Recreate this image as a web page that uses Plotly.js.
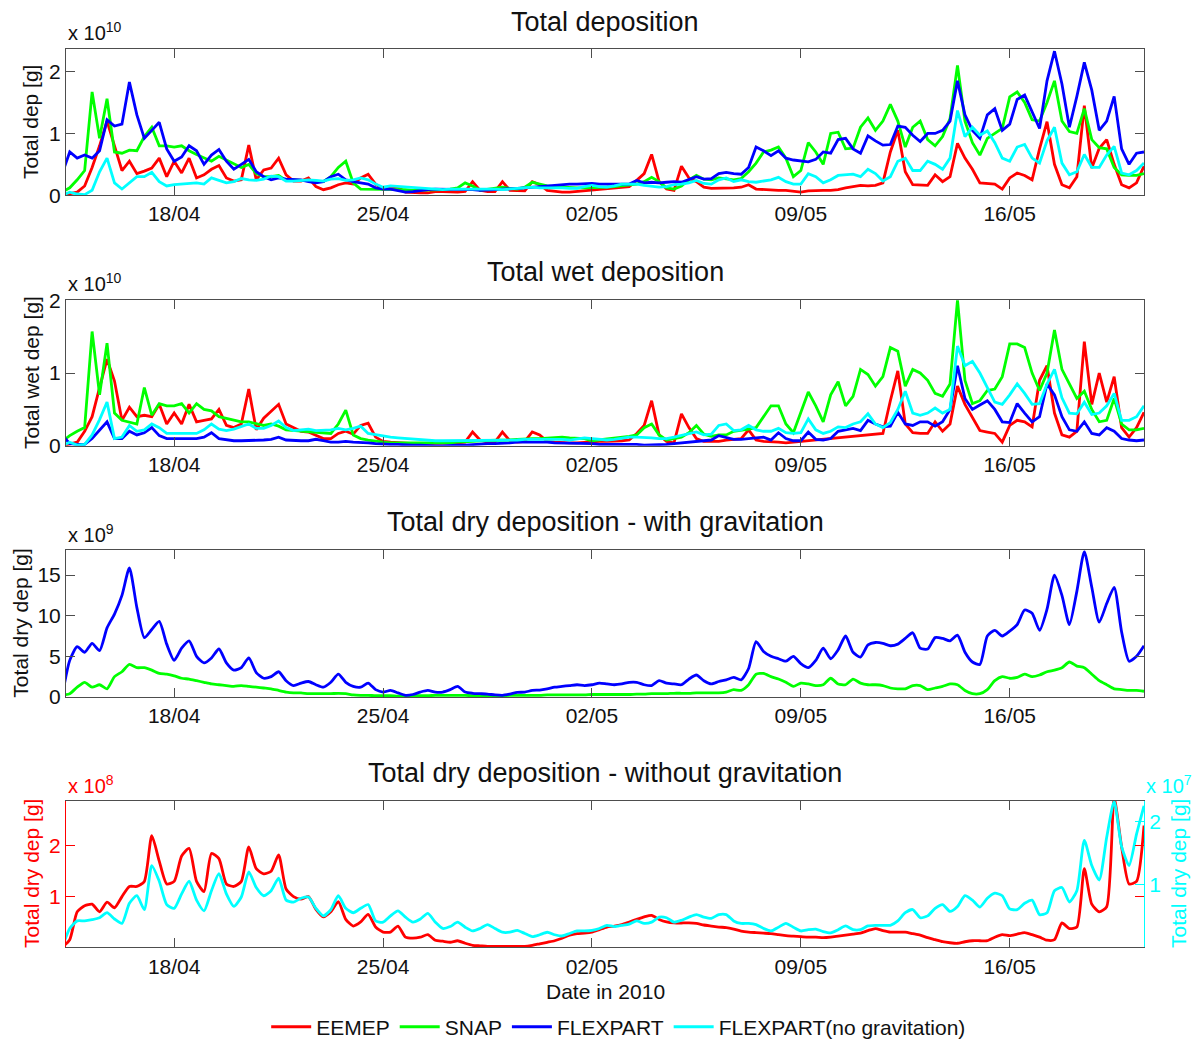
<!DOCTYPE html>
<html>
<head>
<meta charset="utf-8">
<script src="https://cdn.plot.ly/plotly-3.0.1.min.js"></script>
<style>
  html, body { margin: 0; padding: 0; background: #ffffff; }
  #chart { width: 1199px; height: 1048px; }
</style>
</head>
<body>
<div id="chart"></div>
<script>
// ---------------------------------------------------------------------------
// Ash deposition totals, 14 April - 20 May 2010, six-hourly samples
// (first sample 14/04 06:00, last sample 20/05 12:00).
// ---------------------------------------------------------------------------
const startTime = Date.UTC(2010, 3, 14, 6, 0);
const stepHours = 6;

const modelNames = ['EEMEP', 'SNAP', 'FLEXPART', 'FLEXPART(no gravitation)'];
const dateTicks = ['2010-04-18', '2010-04-25', '2010-05-02', '2010-05-09', '2010-05-16'];
const dateTickText = ['18/04', '25/04', '02/05', '09/05', '16/05'];

// Total deposition, units of 1e10 g
const totalEemep = [
  0, 0.02, 0.05, 0.15, 0.45, 0.8, 1.2, 0.8,
  0.4, 0.55, 0.35, 0.39, 0.44, 0.6, 0.3, 0.55,
  0.36, 0.6, 0.28, 0.33, 0.42, 0.48, 0.28, 0.23,
  0.25, 0.81, 0.25, 0.41, 0.44, 0.6, 0.33, 0.23,
  0.23, 0.28, 0.14, 0.09, 0.12, 0.17, 0.2, 0.18,
  0.28, 0.34, 0.18, 0.1, 0.12, 0.13, 0.05, 0.04,
  0.04, 0.04, 0.06, 0.06, 0.05, 0.05, 0.06, 0.22,
  0.08, 0.06, 0.06, 0.22, 0.08, 0.07, 0.07, 0.22,
  0.17, 0.08, 0.06, 0.05, 0.05, 0.06, 0.08, 0.09,
  0.09, 0.1, 0.12, 0.13, 0.14, 0.24, 0.35, 0.66,
  0.22, 0.1, 0.08, 0.47, 0.28, 0.22, 0.13, 0.11,
  0.11, 0.12, 0.12, 0.13, 0.17, 0.1, 0.09, 0.09,
  0.08, 0.08, 0.06, 0.05, 0.07, 0.08, 0.08, 0.08,
  0.09, 0.12, 0.14, 0.16, 0.15, 0.16, 0.2, 0.7,
  1.05, 0.38, 0.17, 0.16, 0.16, 0.33, 0.22, 0.3,
  0.84, 0.6, 0.42, 0.2, 0.19, 0.18, 0.1, 0.28,
  0.36, 0.32, 0.25, 0.75, 1.19, 0.5, 0.17, 0.12,
  0.3, 1.45, 0.44, 0.76, 0.9, 0.5, 0.17, 0.12,
  0.2, 0.47
];
const totalSnap = [
  0.05, 0.12, 0.25, 0.4, 1.67, 0.92, 1.56, 0.7,
  0.68, 0.73, 0.72, 0.95, 1.1, 0.8, 0.8, 0.78,
  0.8, 0.72, 0.66, 0.6, 0.55, 0.63, 0.57, 0.5,
  0.45, 0.5, 0.35, 0.3, 0.3, 0.32, 0.24, 0.25,
  0.24, 0.23, 0.22, 0.22, 0.3, 0.45, 0.55, 0.2,
  0.1, 0.1, 0.1, 0.1, 0.1, 0.09, 0.09, 0.08,
  0.08, 0.08, 0.09, 0.09, 0.1, 0.12, 0.2, 0.15,
  0.08, 0.1, 0.12, 0.13, 0.11, 0.1, 0.13, 0.21,
  0.18, 0.15, 0.14, 0.13, 0.13, 0.12, 0.12, 0.12,
  0.12, 0.13, 0.14, 0.15, 0.16, 0.18, 0.22, 0.29,
  0.22, 0.12, 0.1, 0.15, 0.25, 0.32, 0.26, 0.25,
  0.28, 0.27, 0.25, 0.27, 0.38, 0.52, 0.7, 0.73,
  0.78, 0.6, 0.3, 0.4, 0.85, 0.7, 0.5, 1.0,
  1.02, 0.75, 0.76, 1.1, 1.25, 1.05, 1.2, 1.47,
  1.2, 0.78, 1.1, 1.2, 0.9, 0.8, 0.95, 1.24,
  2.1, 1.2, 0.85, 0.65, 0.92, 1.0, 1.08, 1.59,
  1.67, 1.5, 1.22, 1.2, 1.5, 1.85, 1.2, 1.03,
  1.0, 1.4, 0.9, 0.77, 0.75, 0.45, 0.33, 0.32,
  0.32, 0.35
];
const totalFlexpart = [
  0.35, 0.7, 0.6, 0.65, 0.6, 0.72, 1.22, 1.12,
  1.15, 1.83, 1.3, 0.92, 1.05, 1.18, 0.75, 0.55,
  0.62, 0.8, 0.72, 0.5, 0.65, 0.74, 0.55, 0.42,
  0.5, 0.58, 0.38, 0.3, 0.25, 0.28, 0.26, 0.25,
  0.25, 0.22, 0.2, 0.22, 0.3, 0.34, 0.25, 0.22,
  0.2, 0.18, 0.12, 0.1, 0.1, 0.08, 0.05, 0.06,
  0.08, 0.09, 0.1, 0.1, 0.09, 0.1, 0.09, 0.09,
  0.08, 0.08, 0.09, 0.1, 0.1, 0.11, 0.12, 0.13,
  0.15, 0.16, 0.16, 0.17, 0.18, 0.18, 0.19, 0.19,
  0.18, 0.18, 0.17, 0.17, 0.18, 0.24, 0.2, 0.21,
  0.2, 0.21, 0.22, 0.21, 0.25, 0.3, 0.26, 0.27,
  0.35, 0.37, 0.35, 0.34, 0.45, 0.78, 0.72, 0.64,
  0.72, 0.6, 0.57, 0.55, 0.54, 0.58, 0.7, 0.68,
  0.9, 0.92, 0.75, 0.68, 0.96, 0.88, 0.81, 0.82,
  1.12, 1.1, 0.97, 0.87, 1.0, 1.0, 1.05, 1.2,
  1.85, 1.3, 1.05, 0.92, 1.3, 1.4, 1.05, 1.15,
  1.55, 1.62, 1.35, 1.08, 1.85, 2.33, 1.8, 1.1,
  1.6, 2.15, 1.7, 1.05, 1.2, 1.6, 0.75, 0.5,
  0.68, 0.7
];
const totalFlexpartNoGrav = [
  0, 0.05, 0.02, 0.01, 0.08, 0.38, 0.6, 0.2,
  0.1, 0.2, 0.3, 0.3, 0.37, 0.22, 0.15, 0.17,
  0.18, 0.19, 0.2, 0.18, 0.28, 0.24, 0.2, 0.22,
  0.27, 0.25, 0.24, 0.26, 0.31, 0.3, 0.23, 0.23,
  0.24, 0.25, 0.24, 0.23, 0.26, 0.27, 0.24, 0.25,
  0.28, 0.25, 0.18, 0.13, 0.15, 0.14, 0.13, 0.12,
  0.11, 0.1, 0.1, 0.09, 0.1, 0.1, 0.11, 0.1,
  0.11, 0.1, 0.1, 0.09, 0.1, 0.11, 0.12, 0.13,
  0.12, 0.12, 0.13, 0.12, 0.11, 0.11, 0.14, 0.16,
  0.14, 0.13, 0.15, 0.18, 0.18, 0.18, 0.16, 0.15,
  0.13, 0.14, 0.17, 0.18, 0.2, 0.24, 0.19, 0.18,
  0.25, 0.28, 0.22, 0.25, 0.22, 0.21, 0.23, 0.25,
  0.29, 0.22, 0.18, 0.18, 0.35, 0.3, 0.2, 0.25,
  0.32, 0.33, 0.34, 0.3, 0.42, 0.35, 0.23, 0.3,
  0.55, 0.6, 0.4, 0.4, 0.55, 0.5, 0.42, 0.6,
  1.37, 0.95, 1.1, 0.97, 1.04, 0.85, 0.6, 0.55,
  0.78, 0.82, 0.6, 0.52, 0.88, 1.1, 0.52, 0.33,
  0.38, 0.66, 0.45, 0.45, 0.65, 0.79, 0.36, 0.33,
  0.4, 0.52
];

// Total wet deposition, units of 1e10 g
const wetEemep = [
  0, 0.02, 0.05, 0.2, 0.4, 0.8, 1.19, 0.89,
  0.35, 0.53, 0.4, 0.42, 0.4, 0.57, 0.3, 0.45,
  0.3, 0.57, 0.33, 0.35, 0.37, 0.5, 0.28, 0.25,
  0.3, 0.78, 0.22, 0.38, 0.48, 0.57, 0.3, 0.25,
  0.2, 0.19, 0.15, 0.1, 0.1, 0.17, 0.2, 0.16,
  0.28, 0.31, 0.12, 0.06, 0.05, 0.04, 0.04, 0.03,
  0.03, 0.03, 0.03, 0.04, 0.04, 0.04, 0.05, 0.19,
  0.08, 0.05, 0.05, 0.19, 0.07, 0.05, 0.06, 0.19,
  0.15, 0.06, 0.05, 0.04, 0.04, 0.04, 0.05, 0.06,
  0.06, 0.06, 0.06, 0.07, 0.08, 0.17, 0.28, 0.62,
  0.15, 0.06, 0.04, 0.44, 0.25, 0.1, 0.06, 0.06,
  0.06, 0.08, 0.09, 0.1, 0.22, 0.08, 0.06, 0.06,
  0.05, 0.04, 0.05, 0.06, 0.07, 0.08, 0.08, 0.1,
  0.1, 0.12, 0.13, 0.14, 0.15, 0.16, 0.17, 0.62,
  1.03, 0.3, 0.18, 0.17, 0.17, 0.33, 0.2, 0.3,
  0.82, 0.57, 0.4, 0.21, 0.19, 0.17, 0.05, 0.28,
  0.35, 0.33, 0.26, 0.9, 1.1, 0.45, 0.15, 0.12,
  0.2, 1.43, 0.57, 1.0, 0.6, 0.95, 0.25, 0.12,
  0.25, 0.46
];
const wetSnap = [
  0.06, 0.14, 0.2, 0.25, 1.57, 0.7, 1.41, 0.45,
  0.35, 0.33, 0.3, 0.8, 0.42, 0.58, 0.55, 0.55,
  0.58, 0.45, 0.58, 0.5, 0.48, 0.4, 0.38, 0.35,
  0.33, 0.33, 0.3, 0.28, 0.3, 0.27, 0.22, 0.21,
  0.2, 0.19, 0.18, 0.17, 0.17, 0.3, 0.49, 0.15,
  0.1, 0.08, 0.06, 0.05, 0.04, 0.04, 0.03, 0.03,
  0.03, 0.04, 0.04, 0.04, 0.04, 0.05, 0.05, 0.06,
  0.07, 0.07, 0.08, 0.08, 0.08, 0.09, 0.1, 0.1,
  0.1, 0.11, 0.12, 0.12, 0.11, 0.11, 0.1, 0.07,
  0.08, 0.09, 0.11, 0.12, 0.13, 0.15, 0.25, 0.3,
  0.15, 0.08, 0.1, 0.12, 0.18, 0.28, 0.16, 0.13,
  0.15, 0.15, 0.2, 0.21, 0.23, 0.25, 0.4, 0.55,
  0.55, 0.3, 0.18, 0.45, 0.74, 0.55, 0.33, 0.7,
  0.88, 0.55, 0.68, 1.05, 0.98, 0.82, 0.95, 1.35,
  1.3, 0.82, 1.05, 1.0, 0.9, 0.72, 0.68, 0.85,
  2.0, 0.9, 0.58, 0.62, 0.76, 0.78, 0.95, 1.4,
  1.4, 1.35, 1.0, 0.76, 1.0, 1.59, 1.05, 0.85,
  0.65, 0.75, 0.5, 0.33, 0.35, 0.65, 0.3, 0.22,
  0.22, 0.24
];
const wetFlexpart = [
  0.15, 0.03, 0.02, 0.02, 0.1, 0.22, 0.33, 0.1,
  0.1, 0.2, 0.15, 0.18, 0.25, 0.14, 0.1, 0.1,
  0.1, 0.1, 0.1, 0.12, 0.18, 0.1, 0.08, 0.07,
  0.07, 0.07, 0.07, 0.08, 0.09, 0.12, 0.08, 0.07,
  0.07, 0.07, 0.09, 0.07, 0.05, 0.05, 0.06, 0.05,
  0.05, 0.04, 0.03, 0.02, 0.02, 0.02, 0.01, 0.01,
  0.01, 0, 0, 0, 0.01, 0.01, 0.01, 0.02,
  0.02, 0.03, 0.03, 0.03, 0.04, 0.05, 0.05, 0.06,
  0.05, 0.05, 0.04, 0.04, 0.04, 0.04, 0.04, 0.03,
  0.02, 0.02, 0.02, 0.03, 0.03, 0.02, 0.01, 0.01,
  0.01, 0.02, 0.03, 0.04, 0.05, 0.06, 0.07, 0.08,
  0.14, 0.12, 0.09, 0.09, 0.1, 0.11, 0.12, 0.08,
  0.18, 0.1, 0.07, 0.07, 0.19, 0.09, 0.08, 0.1,
  0.2, 0.22, 0.24, 0.21, 0.35, 0.3, 0.26, 0.27,
  0.46, 0.3, 0.28, 0.33, 0.33, 0.27, 0.33, 0.5,
  1.1, 0.65, 0.5, 0.56, 0.62, 0.5, 0.33, 0.32,
  0.58, 0.45, 0.33, 0.4, 0.85, 0.7, 0.4, 0.22,
  0.2, 0.33, 0.17, 0.15, 0.25, 0.2, 0.1, 0.08,
  0.07, 0.08
];
const wetFlexpartNoGrav = [
  0, 0.05, 0.01, 0.02, 0.15, 0.36, 0.6, 0.1,
  0.12, 0.28, 0.2, 0.22, 0.3, 0.25, 0.17, 0.17,
  0.17, 0.18, 0.17, 0.22, 0.3, 0.23, 0.21, 0.23,
  0.27, 0.3, 0.24, 0.24, 0.28, 0.34, 0.25, 0.21,
  0.22, 0.23, 0.21, 0.21, 0.22, 0.24, 0.22, 0.24,
  0.27, 0.17, 0.15, 0.13, 0.12, 0.11, 0.1, 0.1,
  0.09, 0.08, 0.07, 0.07, 0.07, 0.07, 0.07, 0.07,
  0.07, 0.07, 0.07, 0.07, 0.08, 0.08, 0.09, 0.09,
  0.09, 0.1, 0.09, 0.09, 0.08, 0.09, 0.11, 0.1,
  0.09, 0.08, 0.09, 0.11, 0.12, 0.12, 0.12, 0.11,
  0.1, 0.1, 0.12, 0.14, 0.16, 0.19, 0.15, 0.16,
  0.28, 0.3, 0.21, 0.22, 0.28, 0.22, 0.2, 0.2,
  0.24, 0.18, 0.17, 0.18, 0.37, 0.22, 0.17, 0.2,
  0.26, 0.25, 0.3, 0.33, 0.44, 0.3, 0.25, 0.32,
  0.5, 0.75, 0.45, 0.42, 0.45, 0.52, 0.45, 0.5,
  1.37, 1.1, 1.16, 1.0, 0.8, 0.6, 0.57, 0.7,
  0.85, 0.72, 0.57, 0.58, 0.85, 1.05, 0.66, 0.45,
  0.44, 0.6, 0.43, 0.45, 0.55, 0.72, 0.35, 0.35,
  0.4, 0.55
];

// Total dry deposition with gravitational settling, units of 1e9 g
const dryGravSnap = [
  0.2, 0.4, 1.2, 1.8, 1.2, 1.5, 1.0, 2.5,
  3.1, 4.0, 3.6, 3.6, 3.3, 2.9, 2.8, 2.6,
  2.3, 2.2, 2.0, 1.8, 1.6, 1.5, 1.4, 1.3,
  1.4, 1.3, 1.2, 1.1, 1.0, 0.8, 0.6, 0.5,
  0.5, 0.4, 0.4, 0.4, 0.4, 0.45, 0.4, 0.25,
  0.2, 0.2, 0.15, 0.15, 0.15, 0.1, 0.1, 0.15,
  0.15, 0.15, 0.2, 0.2, 0.2, 0.2, 0.2, 0.15,
  0.15, 0.15, 0.15, 0.15, 0.2, 0.2, 0.2, 0.2,
  0.2, 0.25, 0.25, 0.25, 0.25, 0.25, 0.25, 0.3,
  0.3, 0.3, 0.3, 0.3, 0.3, 0.35, 0.35, 0.4,
  0.4, 0.4, 0.45, 0.45, 0.45, 0.5, 0.5, 0.5,
  0.5, 0.6, 0.9, 0.8, 1.5, 2.8, 2.9, 2.5,
  2.2, 1.8, 1.3, 1.7, 1.6, 1.4, 1.5, 2.3,
  1.6, 1.5, 2.2, 1.7, 1.5, 1.5, 1.4, 1.1,
  1.0, 1.0, 1.4, 1.4, 0.9, 1.1, 1.3, 1.6,
  1.5, 0.8, 0.4, 0.4, 0.9, 2.0, 2.5, 2.3,
  2.4, 2.8, 2.5, 2.7, 3.1, 3.3, 3.6, 4.3,
  3.8, 3.6, 2.8, 2.0, 1.5, 1.0, 0.9, 0.8,
  0.8, 0.7
];
const dryGravFlexpart = [
  0.2, 4.5, 6.2, 5.5, 6.6, 5.7, 8.5, 10.2,
  12.5, 15.9, 11.0, 7.3, 8.3, 9.3, 6.5, 4.5,
  6.0, 6.9, 5.0, 4.2, 4.8, 5.9, 4.2, 3.3,
  3.6, 4.8, 3.0, 2.3, 2.5, 3.1, 2.0, 1.4,
  1.7, 1.9, 1.5, 1.2, 1.8, 2.8, 1.8, 1.3,
  1.2, 1.7, 0.9, 0.6, 0.8, 0.5, 0.2, 0.3,
  0.6, 0.8, 0.6, 0.6, 0.9, 1.3, 0.6, 0.45,
  0.4, 0.35, 0.25, 0.2, 0.35, 0.55, 0.6, 0.8,
  0.85, 1.0, 1.2, 1.3, 1.4, 1.5, 1.4, 1.5,
  1.7, 1.6, 1.5, 1.6, 1.8, 1.8, 1.5, 1.4,
  2.0, 1.7, 1.6, 1.5, 2.2, 2.7, 2.0, 1.6,
  1.9, 2.1, 2.4, 2.1, 3.5, 6.8, 5.6, 5.0,
  4.7, 4.4, 5.0, 4.1, 3.6, 4.5, 6.0, 4.7,
  5.8, 7.5, 5.5, 4.9, 6.4, 6.7, 6.6, 6.3,
  6.5, 7.2, 7.9, 6.0, 5.9, 7.3, 7.2, 6.9,
  7.6, 5.5, 4.3, 4.0, 7.5, 8.2, 7.5, 8.1,
  8.9, 10.7, 10.3, 8.2, 10.8, 15.0, 12.5, 8.9,
  13.0, 17.9, 13.5, 9.2, 11.5, 13.5, 8.0, 4.4,
  5.0, 6.3
];

// Total dry deposition without gravitational settling
// EEMEP in units of 1e8 g (left axis), FLEXPART in units of 1e7 g (right axis)
const dryNoGravEemep = [
  0, 0.15, 0.7, 0.82, 0.85, 0.7, 0.89, 0.78,
  1.0, 1.2, 1.2, 1.3, 2.2, 1.7, 1.25, 1.3,
  1.8, 1.95, 1.3, 1.1, 1.85, 1.75, 1.25, 1.2,
  1.3, 1.98, 1.55, 1.45, 1.5, 1.82, 1.15, 1.0,
  0.95, 1.0, 0.75, 0.6, 0.7, 0.9, 0.55, 0.42,
  0.5, 0.65, 0.4, 0.3, 0.3, 0.42, 0.2, 0.18,
  0.2, 0.25, 0.14, 0.12, 0.1, 0.13, 0.08, 0.04,
  0.03, 0.02, 0.02, 0.02, 0.02, 0.02, 0.02, 0.04,
  0.07, 0.1, 0.13, 0.18, 0.24, 0.27, 0.28, 0.3,
  0.35, 0.4, 0.42, 0.45, 0.5, 0.55, 0.6, 0.63,
  0.55, 0.5, 0.48, 0.48, 0.48, 0.47, 0.44, 0.42,
  0.4, 0.39, 0.36, 0.32, 0.3, 0.29, 0.28, 0.27,
  0.25, 0.23, 0.22, 0.21, 0.2, 0.2, 0.19, 0.2,
  0.22, 0.24, 0.26, 0.28, 0.33, 0.37, 0.33, 0.3,
  0.3, 0.3, 0.27, 0.24, 0.19, 0.15, 0.11, 0.09,
  0.08, 0.11, 0.13, 0.13, 0.13, 0.2, 0.25, 0.23,
  0.26, 0.29, 0.25, 0.2, 0.14, 0.15, 0.48, 0.37,
  0.4, 1.55, 0.85, 0.7, 0.8, 2.95, 1.98, 1.25,
  1.3, 2.4
];
const dryNoGravFlexpart = [
  0, 0.3, 0.42, 0.42, 0.44, 0.47, 0.55, 0.45,
  0.38, 0.7, 0.82, 0.6, 1.3, 1.05, 0.68, 0.62,
  0.85, 1.05, 0.75, 0.58, 0.9, 1.17, 0.85, 0.65,
  0.8, 1.2, 0.95, 0.82, 0.9, 1.1, 0.75, 0.72,
  0.78, 0.8, 0.62, 0.5, 0.6, 0.82, 0.62, 0.55,
  0.62, 0.68, 0.42, 0.4, 0.5, 0.58, 0.48, 0.4,
  0.45, 0.54, 0.4, 0.3, 0.33, 0.4, 0.32, 0.26,
  0.3, 0.36, 0.3, 0.24, 0.24, 0.27, 0.22, 0.17,
  0.2, 0.24, 0.2, 0.18, 0.22, 0.26, 0.26, 0.27,
  0.3, 0.35, 0.33, 0.35, 0.37, 0.42, 0.38, 0.4,
  0.48, 0.47, 0.4, 0.43, 0.48, 0.52, 0.48, 0.46,
  0.52, 0.52, 0.42, 0.38, 0.38, 0.36, 0.3, 0.26,
  0.32, 0.38, 0.32, 0.26, 0.28, 0.29, 0.25, 0.23,
  0.28, 0.34, 0.28, 0.28, 0.34, 0.35, 0.35, 0.35,
  0.42, 0.55, 0.6, 0.47, 0.5, 0.62, 0.68, 0.57,
  0.65, 0.82, 0.75, 0.64, 0.78, 0.86, 0.82, 0.61,
  0.6, 0.7, 0.75, 0.52, 0.55, 0.9, 0.95, 0.72,
  0.9, 1.7, 1.3, 1.07, 1.75, 2.32, 1.6, 1.3,
  1.8, 2.25
];

// ---------------------------------------------------------------------------
// Figure geometry and styling
// ---------------------------------------------------------------------------
const FIG_W = 1199, FIG_H = 1048;
const FONT = 'Liberation Sans, Arial, Helvetica, sans-serif';
const RED = '#ff0000', GREEN = '#00ff00', BLUE = '#0000ff', CYAN = '#00ffff';
const FRAME = '#4d4d4d';
const TEXT = '#111111';

const px = (x) => x / FIG_W;
const py = (y) => 1 - y / FIG_H;
const band = (top, bottom) => [py(bottom), py(top)];

const plotLeft = 66, plotRight = 1144;
const panels = [
  { top: 49.3, bottom: 197.5 },
  { top: 303.7, bottom: 451 },
  { top: 556.7, bottom: 705 },
  { top: 810, bottom: 958.3 }
];

function sampleTimes(n) {
  const out = [];
  for (let k = 0; k < n; k++) {
    const t = new Date(startTime + k * stepHours * 3600 * 1000);
    out.push(t.toISOString().slice(0, 16).replace('T', ' '));
  }
  return out;
}
const times = sampleTimes(totalEemep.length);

function series(values, name, color, xa, ya, opts) {
  const o = opts || {};
  const line = { color: color, width: 2.8, shape: o.smooth ? 'spline' : 'linear' };
  if (o.smooth) line.smoothing = 0.6;
  return {
    type: 'scatter', mode: 'lines',
    x: times, y: values, name: name,
    xaxis: xa, yaxis: ya,
    line: line,
    showlegend: !!o.legend,
    legendrank: o.rank || 1000,
    hoverinfo: 'skip'
  };
}

const traces = [
  // panel 1
  series(totalEemep, modelNames[0], RED, 'x', 'y', { legend: true, rank: 1 }),
  series(totalSnap, modelNames[1], GREEN, 'x', 'y', { legend: true, rank: 2 }),
  series(totalFlexpart, modelNames[2], BLUE, 'x', 'y', { legend: true, rank: 3 }),
  series(totalFlexpartNoGrav, modelNames[3], CYAN, 'x', 'y', { legend: true, rank: 4 }),
  // panel 2
  series(wetEemep, modelNames[0], RED, 'x2', 'y2'),
  series(wetSnap, modelNames[1], GREEN, 'x2', 'y2'),
  series(wetFlexpart, modelNames[2], BLUE, 'x2', 'y2'),
  series(wetFlexpartNoGrav, modelNames[3], CYAN, 'x2', 'y2'),
  // panel 3
  series(dryGravSnap, modelNames[1], GREEN, 'x3', 'y3', { smooth: true }),
  series(dryGravFlexpart, modelNames[2], BLUE, 'x3', 'y3', { smooth: true }),
  // panel 4
  series(dryNoGravEemep, modelNames[0], RED, 'x4', 'y4', { smooth: true }),
  series(dryNoGravFlexpart, modelNames[3], CYAN, 'x4', 'y5', { smooth: true })
];

const xRange = ['2010-04-14 09:00', '2010-05-20 12:00'];

function xAxis(anchor) {
  return {
    type: 'date', range: xRange, domain: [px(plotLeft), px(plotRight)], anchor: anchor,
    tickmode: 'array', tickvals: dateTicks, ticktext: dateTickText,
    ticks: 'inside', ticklen: 9, tickwidth: 1, tickcolor: FRAME,
    showline: true, linecolor: FRAME, linewidth: 1, mirror: 'ticks',
    showgrid: false, zeroline: false,
    tickfont: { family: FONT, size: 21, color: TEXT }
  };
}
function yAxis(anchor, panel, range, ticks, color) {
  const c = color || FRAME;
  return {
    domain: band(panel.top, panel.bottom), anchor: anchor, range: range,
    tickmode: 'array', tickvals: ticks, ticktext: ticks.map(String),
    ticks: 'inside', ticklen: 9, tickwidth: 1, tickcolor: c,
    showline: true, linecolor: c, linewidth: 1, mirror: 'ticks',
    showgrid: false, zeroline: false,
    tickfont: { family: FONT, size: 21, color: color || TEXT }
  };
}

function note(text, x, y, o) {
  const opt = o || {};
  return {
    text: text, xref: 'paper', yref: 'paper', x: px(x), y: py(y),
    xanchor: opt.xanchor || 'center', yanchor: opt.yanchor || 'middle',
    textangle: opt.angle || 0, showarrow: false,
    font: { family: FONT, size: opt.size || 21, color: opt.color || TEXT }
  };
}

const midX = (plotLeft + plotRight) / 2;
const annotations = [
  note('Total deposition', midX, 22, { size: 27 }),
  note('Total wet deposition', midX, 275, { size: 27 }),
  note('Total dry deposition - with gravitation', midX, 528, { size: 27 }),
  note('Total dry deposition - without gravitation', midX, 782, { size: 27 }),

  note('Total dep [g]', 31, (panels[0].top + panels[0].bottom) / 2, { angle: -90 }),
  note('Total wet dep [g]', 31, (panels[1].top + panels[1].bottom) / 2, { angle: -90 }),
  note('Total dry dep [g]', 21, (panels[2].top + panels[2].bottom) / 2, { angle: -90 }),
  note('Total dry dep [g]', 31, (panels[3].top + panels[3].bottom) / 2, { angle: -90, color: RED }),
  note('Total dry dep [g]', 1178, (panels[3].top + panels[3].bottom) / 2, { angle: -90, color: CYAN }),

  note('x 10<sup>10</sup>', plotLeft, 47, { xanchor: 'left', yanchor: 'bottom', size: 20 }),
  note('x 10<sup>10</sup>', plotLeft, 300, { xanchor: 'left', yanchor: 'bottom', size: 20 }),
  note('x 10<sup>9</sup>', plotLeft, 554, { xanchor: 'left', yanchor: 'bottom', size: 20 }),
  note('x 10<sup>8</sup>', plotLeft, 808, { xanchor: 'left', yanchor: 'bottom', size: 20, color: RED }),
  note('x 10<sup>7</sup>', plotRight, 808, { xanchor: 'left', yanchor: 'bottom', size: 20, color: CYAN }),

  note('Date in 2010', midX, 1003)
];

const layout = {
  width: FIG_W, height: FIG_H,
  margin: { l: 0, r: 0, t: 0, b: 0, pad: 0 },
  paper_bgcolor: '#ffffff', plot_bgcolor: '#ffffff',
  font: { family: FONT, size: 21, color: TEXT },
  showlegend: true,
  legend: {
    orientation: 'h', x: 0.516, xanchor: 'center', y: py(1039), yanchor: 'middle',
    font: { family: FONT, size: 21, color: TEXT },
    bgcolor: 'rgba(0,0,0,0)', borderwidth: 0, itemwidth: 40,
    traceorder: 'normal'
  },
  xaxis: xAxis('y'),
  xaxis2: xAxis('y2'),
  xaxis3: xAxis('y3'),
  xaxis4: xAxis('y4'),
  yaxis: yAxis('x', panels[0], [0, 2.37], [0, 1, 2]),
  yaxis2: yAxis('x2', panels[1], [0, 2], [0, 1, 2]),
  yaxis3: yAxis('x3', panels[2], [0, 18.05], [0, 5, 10, 15]),
  yaxis4: yAxis('x4', panels[3], [0, 2.89], [1, 2], RED),
  yaxis5: Object.assign(yAxis('x4', panels[3], [0, 2.33], [1, 2], CYAN), {
    overlaying: 'y4', side: 'right', mirror: false
  }),
  annotations: annotations
};

Plotly.newPlot('chart', traces, layout, { displayModeBar: false, staticPlot: true });
</script>
</body>
</html>
